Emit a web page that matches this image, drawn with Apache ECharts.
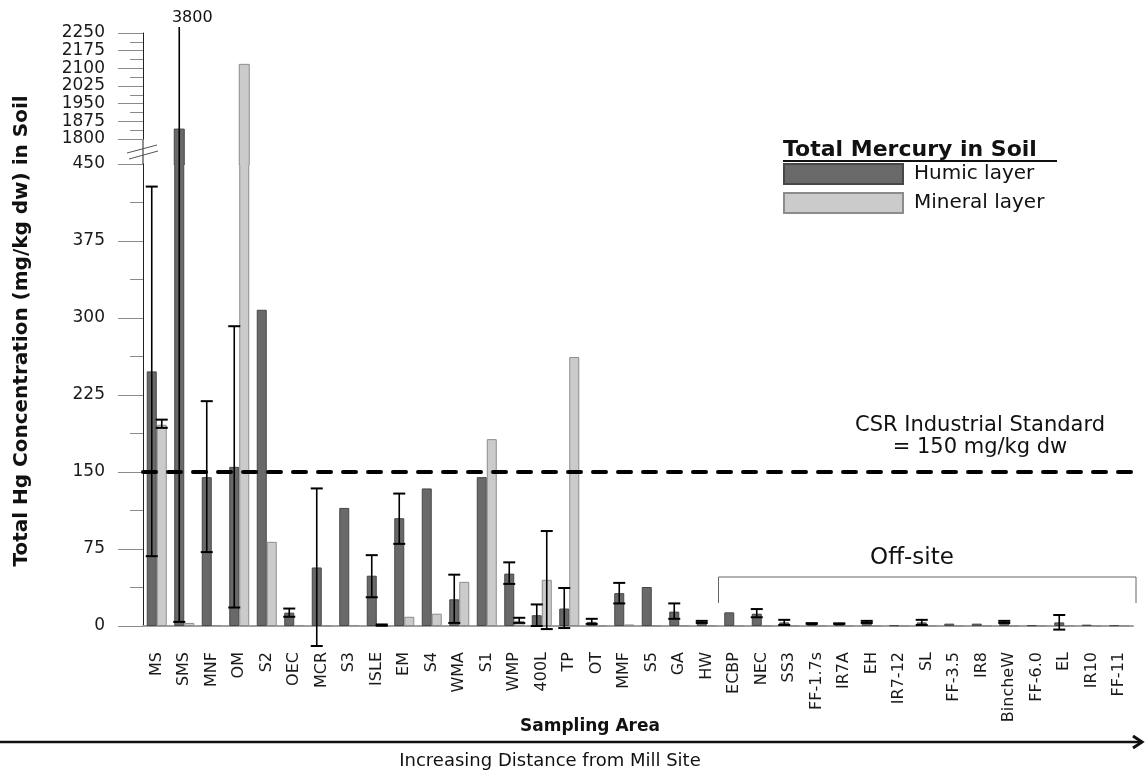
<!DOCTYPE html>
<html>
<head>
<meta charset="utf-8">
<title>Total Mercury in Soil</title>
<script src="https://cdn.jsdelivr.net/npm/echarts@6/dist/echarts.min.js"></script>
<style>
  html, body { margin: 0; padding: 0; background: #fff; }
  #chart { width: 1145px; height: 774px; }
</style>
</head>
<body>
<div id="chart"></div>
<script>
// sampling areas, in order of increasing distance from the mill site
const areas = ["MS", "SMS", "MNF", "OM", "S2", "OEC", "MCR", "S3", "ISLE", "EM", "S4", "WMA",
  "S1", "WMP", "400L", "TP", "OT", "MMF", "S5", "GA", "HW", "ECBP", "NEC", "SS3", "FF-1.7s",
  "IR7A", "EH", "IR7-12", "SL", "FF-3.5", "IR8", "BincheW", "FF-6.0", "EL", "IR10", "FF-11"];

// total Hg, mg/kg dw
const humic = [248, 1842, 145, 155, 308, 13, 57, 115, 49, 105, 134, 26,
  145, 51, 10.5, 17, 4, 32, 38, 14, 4, 13.3, 12, 3.5, 2.3,
  2.3, 4, 0.7, 3.5, 2.3, 2.3, 4, 0.7, 3.5, 1.3, 0.8];
const mineral = [196, 3, 1, 2117, 82, 1, 0.5, 1, 1, 9, 12, 43,
  182, 5, 45, 262, 0.5, 1.5, 0.5, 0.5, 0.5, 0.3, 0.3, 0.3, 0.3,
  0.3, 0.3, 0.3, 0.3, 0.3, 0.3, 0.3, 0.3, 0.3, 0.3, 0.3];

// error bars as [low, high], null where none is drawn
const humicErr = [[68, 428], [4, 3800], [72, 219], [18, 292], null, [9, 17], [-19.5, 134], null,
  [28, 69], [80, 129], null, [3, 50], null, [41, 62], [0, 21], [-2, 37], [2, 7], [22, 42],
  null, [7, 22], [3, 5], null, [8.5, 16.5], [1, 6], [2, 2.8], [2, 2.6], [3, 5], null,
  [1, 6], null, null, [3, 5], null, [-3.5, 10.7], null, null];
const mineralErr = [[193, 201], null, null, null, null, null, null, null,
  [0.3, 1.5], null, null, null, null, [3, 8], [-3, 92.5], null, null, null,
  null, null, null, null, null, null, null, null, null, null,
  null, null, null, null, null, null, null, null];

const csrStandard = 150;

// broken value axis: lower and upper ranges
const lowRange = [0, 450];
const highRange = [1800, 2250];
const tickStep = 75;

const layers = ["Humic layer", "Mineral layer"];
const layerStyle = [
  { color: "#696969", borderColor: "#474747" },
  { color: "#cbcbcb", borderColor: "#8c8c8c" }
];

const BAR_W = 10;
const BREAK_GAP = 25; // pixels between the two grids
const FONT = "DejaVu Sans";

// data for custom series
const errData = [];
[humicErr, mineralErr].forEach((arr, layer) => {
  arr.forEach((e, i) => { if (e) errData.push([i, e[0], e[1], layer]); });
});
const upperErrData = errData.filter(d => d[2] > highRange[0]);
const upperBarData = [];
[humic, mineral].forEach((arr, layer) => {
  arr.forEach((v, i) => { if (v > lowRange[1]) upperBarData.push([i, v, layer]); });
});

const chart = echarts.init(document.getElementById("chart"));

function capLine(x, y) {
  return { type: "line", shape: { x1: x - 6, y1: y, x2: x + 6, y2: y },
    style: { stroke: "#000", lineWidth: 2 } };
}

// error bar in the lower part
function lowErrItem(params, api) {
  const i = api.value(0), low = api.value(1), high = api.value(2), layer = api.value(3);
  const x = api.coord([i, 0])[0] + (layer - 0.5) * BAR_W;
  const yLow = api.coord([i, low])[1];
  const broken = high > lowRange[1];
  const yHigh = broken ? api.coord([i, lowRange[1]])[1] - BREAK_GAP : api.coord([i, high])[1];
  const kids = [
    { type: "line", shape: { x1: x, y1: yLow, x2: x, y2: yHigh }, style: { stroke: "#000", lineWidth: 1.6 } },
    capLine(x, yLow)
  ];
  if (!broken) kids.push(capLine(x, yHigh));
  return { type: "group", children: kids };
}

// error bar in the upper part
function highErrItem(params, api) {
  const i = api.value(0), low = api.value(1), high = api.value(2), layer = api.value(3);
  const x = api.coord([i, highRange[0]])[0] + (layer - 0.5) * BAR_W;
  const yLow = api.coord([i, Math.max(low, highRange[0])])[1];
  const over = high > highRange[1];
  const yHigh = over ? api.coord([i, highRange[1]])[1] - 6 : api.coord([i, high])[1];
  const kids = [
    { type: "line", shape: { x1: x, y1: yLow, x2: x, y2: yHigh }, style: { stroke: "#000", lineWidth: 1.6 } }
  ];
  if (low >= highRange[0]) kids.push(capLine(x, yLow));
  if (!over) kids.push(capLine(x, yHigh));
  else kids.push({ type: "text", x: x + 13, y: yHigh - 1,
    style: { text: String(high), font: "16px " + FONT, fill: "#111", align: "center", verticalAlign: "bottom" } });
  return { type: "group", children: kids };
}

// bars that continue above the axis break
function highBarItem(params, api) {
  const i = api.value(0), v = api.value(1), layer = api.value(2);
  const top = api.coord([i, v]);
  const base = api.coord([i, highRange[0]]);
  const x = top[0] + (layer - 1) * BAR_W;
  const y2 = base[1] + BREAK_GAP + 1;
  const st = layerStyle[layer];
  return { type: "group", children: [
    { type: "rect", shape: { x: x, y: top[1], width: BAR_W, height: y2 - top[1] }, style: { fill: st.color } },
    { type: "polyline", shape: { points: [[x, y2], [x, top[1]], [x + BAR_W, top[1]], [x + BAR_W, y2]] },
      style: { stroke: st.borderColor, lineWidth: 1, fill: null } }
  ]};
}

const valueAxis = (grid, range) => ({
  type: "value", gridIndex: grid, min: range[0], max: range[1], interval: tickStep,
  axisLine: { show: true, lineStyle: { color: "#222", width: 1 } },
  axisTick: { show: true, length: 25, lineStyle: { color: "#8a8a8a" } },
  minorTick: { show: true, splitNumber: 2, length: 13, lineStyle: { color: "#8a8a8a" } },
  splitLine: { show: false },
  axisLabel: { margin: 38, fontSize: 17, fontFamily: FONT, color: "#1a1a1a", formatter: v => String(v) }
});

chart.setOption({
  animation: false,
  backgroundColor: "#fff",
  grid: [
    { left: 143, right: 12, top: 33, height: 106, outerBoundsMode: "none" },
    { left: 143, right: 12, top: 164, height: 462, outerBoundsMode: "none" }
  ],
  xAxis: [
    { type: "category", gridIndex: 0, data: areas, show: false },
    { type: "category", gridIndex: 1, data: areas,
      axisLine: { show: true, lineStyle: { color: "#a0a0a0", width: 2 } },
      axisTick: { show: false },
      axisLabel: { rotate: 90, interval: 0, margin: 26, fontSize: 16, fontFamily: FONT, color: "#1a1a1a" } }
  ],
  yAxis: [valueAxis(0, highRange), valueAxis(1, lowRange)],
  legend: {
    data: layers, orient: "vertical", left: 783, top: 163, padding: 0,
    itemWidth: 119, itemHeight: 20, itemGap: 7, icon: "rect",
    textStyle: { fontSize: 20, fontFamily: FONT, color: "#111", padding: [0, 0, 0, 6] }
  },
  series: [
    { name: layers[0], type: "bar", xAxisIndex: 1, yAxisIndex: 1, data: humic,
      barWidth: BAR_W, barGap: "0%", itemStyle: { color: layerStyle[0].color, borderColor: layerStyle[0].borderColor, borderWidth: 1 } },
    { name: layers[1], type: "bar", xAxisIndex: 1, yAxisIndex: 1, data: mineral,
      barWidth: BAR_W, barGap: "0%", itemStyle: { color: layerStyle[1].color, borderColor: layerStyle[1].borderColor, borderWidth: 1 } },
    { type: "custom", xAxisIndex: 0, yAxisIndex: 0, data: upperBarData, renderItem: highBarItem, z: 3 },
    { type: "custom", xAxisIndex: 1, yAxisIndex: 1, data: errData, renderItem: lowErrItem, z: 4,
      markLine: {
        symbol: "none", silent: true, z: 5,
        lineStyle: { color: "#000", width: 4, type: [13, 12], cap: "round" },
        label: { show: false },
        data: [{ yAxis: csrStandard }]
      } },
    { type: "custom", xAxisIndex: 0, yAxisIndex: 0, data: upperErrData, renderItem: highErrItem, z: 4 }
  ]
});

// annotations placed from the axes
const p0 = chart.convertToPixel({ xAxisIndex: 1, yAxisIndex: 1 }, [0, lowRange[1]]);
const yTopHigh = chart.convertToPixel({ xAxisIndex: 0, yAxisIndex: 0 }, [0, highRange[0]])[1];
const axisX = 143;
const offL = chart.convertToPixel({ xAxisIndex: 1, yAxisIndex: 1 }, [areas.indexOf("HW"), 0])[0];
const offR = chart.convertToPixel({ xAxisIndex: 1, yAxisIndex: 1 }, [areas.indexOf("ECBP"), 0])[0];
const bracketL = (offL + offR) / 2 - 2;
const bracketR = 1136;

chart.setOption({
  graphic: [
    // axis line through the break and the break marks
    { type: "line", shape: { x1: axisX, y1: yTopHigh, x2: axisX, y2: p0[1] }, style: { stroke: "#222", lineWidth: 1 } },
    { type: "line", shape: { x1: axisX - 16, y1: 153, x2: axisX + 14, y2: 145 }, style: { stroke: "#555", lineWidth: 1 } },
    { type: "line", shape: { x1: axisX - 14, y1: 159, x2: axisX + 15, y2: 151 }, style: { stroke: "#555", lineWidth: 1 } },
    // y axis title
    { type: "text", x: 22, y: 331, rotation: Math.PI / 2,
      style: { text: "Total Hg Concentration (mg/kg dw) in Soil", font: "bold 20px " + FONT, fill: "#111",
        align: "center", verticalAlign: "middle" } },
    // legend title
    { type: "text", x: 783, y: 150,
      style: { text: "Total Mercury in Soil", font: "bold 22px " + FONT, fill: "#111", verticalAlign: "middle" } },
    { type: "line", shape: { x1: 783, y1: 161, x2: 1057, y2: 161 }, style: { stroke: "#111", lineWidth: 2 } },
    // CSR standard label
    { type: "text", x: 980, y: 437,
      style: { text: "CSR Industrial Standard\n= 150 mg/kg dw", font: "21px " + FONT, fill: "#111",
        align: "center", verticalAlign: "middle", lineHeight: 22 } },
    // off-site bracket
    { type: "polyline", shape: { points: [[bracketL, 603], [bracketL, 577], [bracketR, 577], [bracketR, 603]] },
      style: { stroke: "#666", lineWidth: 1, fill: null } },
    { type: "text", x: 912, y: 558,
      style: { text: "Off-site", font: "23px " + FONT, fill: "#111", align: "center", verticalAlign: "middle" } },
    // x axis titles and distance arrow
    { type: "text", x: 590, y: 727,
      style: { text: "Sampling Area", font: "bold 17px " + FONT, fill: "#111", align: "center", verticalAlign: "middle" } },
    { type: "line", shape: { x1: 0, y1: 742, x2: 1142, y2: 742 }, style: { stroke: "#111", lineWidth: 2.5 } },
    { type: "polyline", shape: { points: [[1133, 736], [1142, 742], [1133, 748]] },
      style: { stroke: "#111", lineWidth: 3, fill: null } },
    { type: "text", x: 550, y: 761,
      style: { text: "Increasing Distance from Mill Site", font: "18px " + FONT, fill: "#111", align: "center", verticalAlign: "middle" } }
  ]
});
</script>
</body>
</html>
